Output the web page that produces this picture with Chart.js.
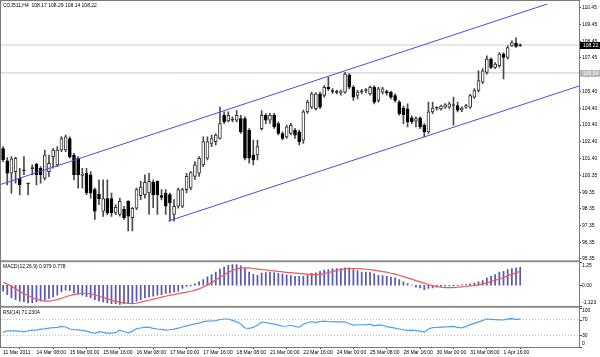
<!DOCTYPE html>
<html><head><meta charset="utf-8">
<script src="https://cdn.jsdelivr.net/npm/chart.js@4.4.1/dist/chart.umd.min.js"></script>
<style>html,body{margin:0;padding:0;background:#fff;overflow:hidden}canvas{display:block}</style>
</head><body>
<canvas id="c" width="600" height="357"></canvas>
<script>
// ---------------- data ----------------
const symbolTitle = 'COJ511,H4';
const lastBar = [108.17, 108.29, 108.14, 108.22];
const macdTitle = 'MACD(12,26,9)';
const macdLast = ['0.979', '0.778'];
const rsiTitle = 'RSI(14)';
const rsiLast = '71.2304';

const timeLabels = ['11 Mar 2011','14 Mar 08:00','15 Mar 00:00','15 Mar 16:00','16 Mar 08:00','17 Mar 00:00','17 Mar 16:00','18 Mar 08:00','21 Mar 00:00','22 Mar 16:00','24 Mar 00:00','25 Mar 08:00','28 Mar 16:00','30 Mar 00:00','31 Mar 08:00','1 Apr 16:00'];
const labelBars = [0,8,16,24,32,40,48,56,64,72,80,88,96,104,112,120];

const open = [101.99,101.24,100.50,100.60,100.20,100.65,99.85,100.78,101.04,100.80,
100.20,100.60,101.50,101.00,101.90,101.90,102.59,101.60,101.40,100.37,
100.50,100.41,99.51,99.25,98.22,98.97,98.97,98.11,98.02,98.32,
98.81,97.82,98.40,99.15,99.21,99.31,99.95,100.01,99.15,99.31,
99.21,98.02,98.51,98.51,99.51,99.61,100.31,100.50,101.00,101.40,
102.30,102.40,102.59,103.99,103.65,103.69,103.69,103.79,103.79,103.09,
101.60,101.60,103.19,103.99,103.69,103.99,103.49,102.89,102.69,102.89,
103.09,102.99,102.49,104.19,104.48,104.39,105.28,105.18,105.68,105.48,
105.38,105.34,105.38,106.41,105.68,105.18,105.40,105.48,105.28,105.68,
104.88,105.38,105.42,105.38,105.18,104.78,104.42,104.38,103.83,103.63,
103.83,103.39,102.99,104.19,104.42,104.38,104.48,104.48,104.58,104.58,
104.29,104.48,104.48,105.08,105.48,105.98,106.57,107.37,106.87,106.97,
107.67,107.47,108.17,108.33,108.17];
const high = [102.10,101.45,101.50,101.48,100.80,101.50,99.92,101.00,101.10,100.90,
101.90,101.60,102.00,102.10,102.70,102.79,102.69,101.70,101.50,100.80,
100.80,100.60,99.61,100.11,100.11,100.11,99.30,98.61,99.00,98.50,
98.85,98.45,99.60,100.01,100.40,100.50,100.11,100.05,99.51,99.51,
99.31,98.91,99.61,99.61,100.50,100.60,101.20,101.50,102.69,102.69,
102.79,102.89,104.48,104.19,104.19,103.90,104.28,103.99,103.89,103.19,
102.49,102.49,104.28,104.09,104.10,104.10,103.60,103.00,103.40,103.50,
103.20,103.10,104.30,104.90,105.38,105.35,105.38,105.78,106.28,105.60,
105.50,105.50,106.57,106.50,105.78,105.50,105.55,105.60,105.75,105.78,
105.68,105.68,105.50,105.45,105.28,104.88,104.55,104.68,103.95,103.89,
103.89,103.49,104.78,104.78,104.50,104.60,104.70,104.78,105.08,104.78,
104.50,104.65,105.25,105.60,106.67,106.80,107.57,107.45,107.17,107.77,
107.77,108.17,108.47,108.66,108.29];
const low = [101.20,99.80,99.30,99.90,99.20,100.41,99.20,100.40,99.80,99.90,
100.10,100.30,100.80,100.90,101.80,101.80,101.40,100.10,99.60,99.60,
99.21,99.00,97.72,98.60,97.90,98.00,97.90,98.00,97.92,97.72,
97.02,97.02,98.30,98.91,99.00,98.02,98.42,98.02,98.90,98.02,
97.62,97.62,98.40,98.42,99.31,99.50,100.11,100.31,100.90,101.30,
102.10,102.20,102.55,103.49,103.59,103.59,103.59,102.89,101.30,101.10,
101.00,101.30,103.09,103.49,103.50,103.20,102.80,102.50,102.60,102.80,
102.60,102.20,102.30,104.10,104.39,104.30,104.39,105.08,105.48,105.30,
105.28,105.20,105.30,105.58,104.88,104.98,105.28,105.35,105.20,104.68,
104.78,105.28,105.20,104.98,104.78,103.99,103.49,103.29,103.49,103.29,
103.19,102.69,102.89,104.09,104.30,104.30,104.40,104.40,103.39,104.19,
104.20,104.40,104.40,105.00,105.38,105.90,106.47,106.80,106.80,106.87,
106.18,107.37,108.13,108.07,108.14];
const close = [101.30,100.50,101.36,101.40,99.81,100.68,99.88,100.82,100.41,100.41,
101.60,101.10,101.90,101.90,102.59,102.69,101.50,100.41,100.41,100.45,
99.31,99.31,98.22,98.97,98.97,98.11,98.11,98.45,98.81,97.82,
97.92,98.38,99.51,99.67,99.95,100.01,99.21,99.21,99.05,98.51,
98.71,98.51,99.51,99.51,100.31,100.54,101.00,101.40,102.40,102.40,
102.59,102.79,103.49,103.59,103.99,103.72,103.99,102.99,101.40,101.40,
101.30,102.10,103.99,103.69,103.99,103.29,102.89,102.59,103.29,103.39,
102.79,102.40,104.19,104.78,105.28,105.28,104.48,105.68,105.58,105.42,
105.36,105.42,106.47,105.68,105.08,105.38,105.42,105.50,105.68,104.78,
105.58,105.58,105.34,105.08,104.88,104.09,104.03,103.59,103.59,103.79,
103.29,102.99,104.19,104.42,104.44,104.54,104.62,104.68,104.60,104.29,
104.42,104.58,105.18,105.48,106.08,106.67,107.37,106.87,107.07,107.67,
107.47,108.07,108.36,108.13,108.22];

const macdMain = [-0.33,-0.51,-0.69,-0.78,-0.87,-0.91,-0.96,-0.96,-0.91,-0.87,
-0.82,-0.72,-0.63,-0.54,-0.36,-0.27,-0.29,-0.42,-0.47,-0.54,
-0.62,-0.69,-0.78,-0.87,-0.91,-0.96,-1.00,-1.01,-1.05,-1.01,
-1.00,-0.96,-0.87,-0.78,-0.69,-0.63,-0.60,-0.54,-0.51,-0.45,
-0.42,-0.36,-0.33,-0.18,-0.07,-0.04,0.07,0.18,0.31,0.45,
0.58,0.72,0.88,0.98,1.08,1.12,1.12,1.05,0.90,0.72,
0.59,0.54,0.66,0.69,0.71,0.69,0.64,0.60,0.55,0.52,
0.48,0.48,0.49,0.54,0.65,0.67,0.76,0.82,0.85,0.89,
0.91,0.91,0.94,0.94,0.85,0.80,0.72,0.71,0.71,0.63,
0.54,0.53,0.49,0.43,0.40,0.31,0.18,0.09,0.01,-0.11,
-0.15,-0.24,-0.18,-0.15,-0.11,-0.07,-0.05,-0.04,-0.04,-0.02,
0.02,0.04,0.07,0.11,0.18,0.25,0.40,0.49,0.58,0.71,
0.76,0.85,0.91,0.94,0.979];
const macdSignal = [0.16,0.07,-0.05,-0.20,-0.33,-0.45,-0.56,-0.67,-0.76,-0.83,
-0.87,-0.87,-0.83,-0.78,-0.71,-0.63,-0.56,-0.51,-0.47,-0.45,
-0.45,-0.47,-0.53,-0.60,-0.67,-0.74,-0.82,-0.87,-0.92,-0.96,
-0.98,-1.00,-0.98,-0.92,-0.87,-0.82,-0.76,-0.71,-0.65,-0.60,
-0.54,-0.51,-0.46,-0.42,-0.38,-0.33,-0.27,-0.20,-0.10,0.02,
0.14,0.28,0.43,0.57,0.70,0.80,0.88,0.93,0.95,0.94,
0.91,0.88,0.85,0.83,0.80,0.78,0.75,0.73,0.70,0.68,
0.66,0.64,0.62,0.60,0.58,0.58,0.60,0.63,0.69,0.74,
0.80,0.85,0.89,0.91,0.91,0.91,0.89,0.87,0.85,0.82,
0.78,0.74,0.71,0.65,0.60,0.54,0.47,0.40,0.33,0.25,
0.18,0.11,0.04,-0.02,-0.07,-0.11,-0.13,-0.13,-0.13,-0.11,
-0.09,-0.07,-0.04,-0.02,0.02,0.07,0.13,0.20,0.27,0.34,
0.42,0.51,0.60,0.67,0.778];
const rsiValues = [37.5,41,41,41,40.5,38.5,41.5,43,43,45.5,
46.5,48,49.5,50,52.5,51,46,44,43.5,42.5,
40.5,37.5,35,39,37.5,35.5,35.3,36.5,43,39.5,
36,40,47,48.5,50.5,50,47.5,46,45,43,
44,45.5,48,51,53.8,56.3,59,61,64.7,66,
66.6,67.5,70.3,71.5,71.5,68,64.3,58.5,48.5,47.5,
50,55.5,63.8,62.5,60.2,58.3,56,53,53.6,55.5,
52.5,50.5,58.3,62,64.5,63,65,66.3,64.5,64.7,
64,64,64.5,59.5,56,56.8,56.8,56.4,58.5,54,
56.5,55.5,52,50,48,46,44,42,43,41.8,
40.5,38,46,49.5,50,51,51.5,52,52.8,50,
49,52.5,57,60.5,64,67.5,72,70.3,70,69.5,
69,71.8,72.5,70.6,71.23];

const priceTicks = [110.45,109.45,108.45,107.45,106.45,105.40,104.40,103.40,102.40,101.40,100.35,99.35,98.35,97.35,96.35,95.35];
const macdTicks = [1.25, 0, -1.123];
const macdTickText = ['1.25', '0.00', '-1.123'];
const rsiTicks = [100, 70, 30, 0];
const rsiLevels = [70, 30];
const bidPrice = 108.22;
const levelPrice = 106.54;
const upperChannel = [[-1, 99.79], [140, 111.48]];
const lowerChannel = [[39.6, 97.62], [140, 105.91]];

// ---------------- chart ----------------
Chart.defaults.font.family = "'Liberation Sans', Arial, sans-serif";
Chart.defaults.font.size = 5;
Chart.defaults.color = '#000';

const X_MIN = -0.5, X_MAX = 138.1;
const fitW = s => { s.width = 21; };

const bodyFill = open.map((o, i) => Math.abs(close[i] - o) < 0.05 ? '#333' : (close[i] >= o ? '#ffffff' : '#000000'));
const bodyLine = open.map((o, i) => close[i] >= o ? '#333333' : '#000000');

function hline(v) { return [{x: X_MIN, y: v}, {x: X_MAX, y: v}]; }

const deco = {
  id: 'deco',
  beforeDraw(chart) {
    const c = chart.ctx; c.save(); c.fillStyle = '#fff'; c.fillRect(0, 0, chart.width, chart.height); c.restore();
  },
  afterDatasetsDraw(chart) {
    const c = chart.ctx, a = chart.chartArea, S = chart.scales;
    c.save();
    const R = Math.round(a.right);
    // separators between panes
    c.fillStyle = '#8e8e8e';
    ['g1', 'g2'].forEach(id => { const s = S[id]; c.fillRect(0, s.top, R + 1, s.bottom - s.top); });
    // frame
    c.strokeStyle = '#7a7a7a'; c.lineWidth = 1;
    c.beginPath();
    c.moveTo(0, 0.5); c.lineTo(R + 1, 0.5);
    c.moveTo(0.5, 0); c.lineTo(0.5, a.bottom + 1);
    c.moveTo(R + 0.5, 0); c.lineTo(R + 0.5, a.bottom + 1);
    c.moveTo(0, Math.round(a.bottom) + 0.5); c.lineTo(R + 1, Math.round(a.bottom) + 0.5);
    c.stroke();

    c.font = "5px 'Liberation Sans', Arial, sans-serif";
    c.textBaseline = 'middle'; c.textAlign = 'left';
    // titles
    c.fillStyle = '#000';
    c.fillText(symbolTitle + '  ' + lastBar.map(v => v.toFixed(2)).join(' '), 3, 6);
    c.fillText(macdTitle + ' ' + macdLast.join(' '), 3, S.yMacd.top + 4.5);
    c.fillText(rsiTitle + ' ' + rsiLast, 3, S.yRsi.top + 4.5);

    // sub-pane axis labels
    function subLabels(s, vals, texts) {
      vals.forEach((v, i) => {
        let y = s.getPixelForValue(v);
        y = Math.min(Math.max(y, s.top + 3), s.bottom - 3);
        c.fillStyle = '#000';
        c.fillText(texts[i], R + 3, y);
        c.fillStyle = '#444';
        c.fillRect(R + 1, Math.round(s.getPixelForValue(v)), 2, 1);
      });
    }
    subLabels(S.yMacd, macdTicks, macdTickText);
    subLabels(S.yRsi, rsiTicks, rsiTicks.map(String));

    // price tags
    function tag(v, bg, fg) {
      const y = S.y.getPixelForValue(v);
      c.fillStyle = bg; c.fillRect(R + 1, Math.round(y) - 3, 600 - R - 1, 7);
      c.fillStyle = fg; c.fillText(v.toFixed(2), R + 4, y + 0.5);
    }
    tag(levelPrice, '#b9b9b9', '#ffffff');
    tag(bidPrice, '#000000', '#ffffff');
    c.restore();
  }
};

new Chart(document.getElementById('c'), {
  type: 'bar',
  data: {
    datasets: [
      {type: 'line', data: upperChannel.map(p => ({x: p[0], y: p[1]})), yAxisID: 'y', borderColor: '#4a4af2', borderWidth: 1, pointRadius: 0, order: 1},
      {type: 'line', data: lowerChannel.map(p => ({x: p[0], y: p[1]})), yAxisID: 'y', borderColor: '#4a4af2', borderWidth: 1, pointRadius: 0, order: 1},
      {type: 'bar', data: open.map((o, i) => ({x: i, y: [o, close[i]]})), yAxisID: 'y',
        backgroundColor: bodyFill, borderColor: bodyLine, borderWidth: 1, borderSkipped: false,
        barThickness: 3, grouped: false, minBarLength: 1, order: 3},
      {type: 'bar', data: high.map((h, i) => ({x: i, y: [low[i], h]})), yAxisID: 'y',
        backgroundColor: '#4a4a4a', barThickness: 1, grouped: false, order: 4},
      {type: 'line', data: hline(bidPrice), yAxisID: 'y', borderColor: '#e4dcdc', borderWidth: 1.5, pointRadius: 0, order: 6},
      {type: 'line', data: hline(levelPrice), yAxisID: 'y', borderColor: '#c6c6c6', borderWidth: 1, pointRadius: 0, order: 6},
      {type: 'bar', data: macdMain.map((v, i) => ({x: i, y: v})), yAxisID: 'yMacd',
        backgroundColor: '#5a5ab2', barThickness: 1.1, grouped: false, order: 3},
      {type: 'line', data: macdSignal.map((v, i) => ({x: i, y: v})), yAxisID: 'yMacd', borderColor: '#f05757', borderWidth: 1.2, pointRadius: 0, order: 1},
      {type: 'line', data: rsiValues.map((v, i) => ({x: i, y: v})), yAxisID: 'yRsi', borderColor: '#4aa2f2', borderWidth: 1.2, pointRadius: 0, order: 1},
      ...rsiLevels.map(v => ({type: 'line', data: hline(v), yAxisID: 'yRsi', borderColor: '#b4b4b4', borderWidth: 1, borderDash: [1, 2], pointRadius: 0, order: 6}))
    ]
  },
  options: {
    responsive: false, animation: false, events: [],
    layout: {padding: {left: 1, top: 1, right: 0, bottom: 0}},
    plugins: {legend: {display: false}, tooltip: {enabled: false}},
    scales: {
      x: {type: 'linear', position: 'bottom', min: X_MIN, max: X_MAX, offset: false,
        afterBuildTicks: s => { s.ticks = labelBars.map(v => ({value: v})); },
        afterFit: s => { s.height = 10; },
        ticks: {autoSkip: false, maxRotation: 0, minRotation: 0, align: 'start', padding: 1, color: '#000',
          callback: (v, i) => timeLabels[i]},
        grid: {drawOnChartArea: false, drawTicks: true, tickLength: 2, color: '#444'},
        border: {display: false}},
      y: {type: 'linear', position: 'right', stack: 'panes', stackWeight: 258.5, min: 95.26, max: 110.69, beginAtZero: false,
        afterBuildTicks: s => { s.ticks = priceTicks.map(v => ({value: v})); },
        afterFit: fitW,
        ticks: {autoSkip: false, padding: 1, color: '#000', callback: v => v.toFixed(2)},
        grid: {drawOnChartArea: false, tickLength: 2, color: '#444'},
        border: {display: false}},
      g1: {type: 'linear', position: 'right', stack: 'panes', stackWeight: 2, afterFit: fitW,
        ticks: {display: false}, grid: {display: false}, border: {display: false}},
      yMacd: {type: 'linear', position: 'right', stack: 'panes', stackWeight: 44, min: -1.123, max: 1.25, beginAtZero: false,
        afterFit: fitW, ticks: {display: false}, grid: {display: false}, border: {display: false}},
      g2: {type: 'linear', position: 'right', stack: 'panes', stackWeight: 2, afterFit: fitW,
        ticks: {display: false}, grid: {display: false}, border: {display: false}},
      yRsi: {type: 'linear', position: 'right', stack: 'panes', stackWeight: 39.5, min: 0, max: 100, beginAtZero: false,
        afterFit: fitW, ticks: {display: false}, grid: {display: false}, border: {display: false}}
    }
  },
  plugins: [deco]
});
</script>
</body></html>
